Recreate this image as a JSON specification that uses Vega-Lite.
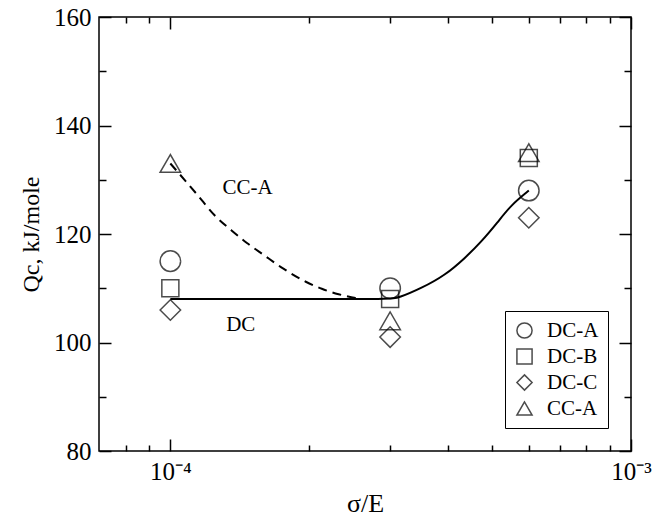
{
  "$schema": "https://vega.github.io/schema/vega-lite/v6.json",
  "width": 532,
  "height": 434,
  "autosize": "none",
  "padding": {"left": 99, "top": 17, "right": 22, "bottom": 74},
  "background": "white",
  "config": {
    "font": "Liberation Serif",
    "view": {"stroke": "black", "strokeWidth": 1.5},
    "axis": {"domain": false, "grid": false, "tickColor": "black", "tickWidth": 1.5, "labelColor": "black", "titleColor": "black", "labelFont": "Liberation Serif", "titleFont": "Liberation Serif", "titleFontWeight": "normal", "labelFontSize": 25, "titleFontSize": 24},
    "legend": {"labelFont": "Liberation Serif, serif", "labelFontSize": 21, "labelColor": "black", "labelFontWeight": "normal"}
  },
  "datasets": {
    "points": [
      {"series": "DC-A", "x": 0.0001, "y": 115},
      {"series": "DC-B", "x": 0.0001, "y": 110},
      {"series": "DC-C", "x": 0.0001, "y": 106},
      {"series": "CC-A", "x": 0.0001, "y": 133},
      {"series": "DC-A", "x": 0.0003, "y": 110},
      {"series": "DC-B", "x": 0.0003, "y": 108},
      {"series": "DC-C", "x": 0.0003, "y": 101},
      {"series": "CC-A", "x": 0.0003, "y": 104},
      {"series": "DC-A", "x": 0.0006, "y": 128},
      {"series": "DC-B", "x": 0.0006, "y": 134},
      {"series": "DC-C", "x": 0.0006, "y": 123},
      {"series": "CC-A", "x": 0.0006, "y": 135}
    ],
    "dc": [
      {"x": 0.0001, "y": 108},
      {"x": 0.0002, "y": 108},
      {"x": 0.0003, "y": 108},
      {"x": 0.0003126, "y": 108.2},
      {"x": 0.0003507, "y": 110.0},
      {"x": 0.000395, "y": 112.4},
      {"x": 0.0004365, "y": 115.6},
      {"x": 0.0004725, "y": 118.5},
      {"x": 0.000514, "y": 122.2},
      {"x": 0.0005485, "y": 125.3},
      {"x": 0.0006, "y": 128}
    ],
    "cc": [
      {"x": 0.0001, "y": 133},
      {"x": 0.0001145, "y": 127.2},
      {"x": 0.0001246, "y": 123.5},
      {"x": 0.0001356, "y": 120.7},
      {"x": 0.0001469, "y": 118.3},
      {"x": 0.0001597, "y": 116.1},
      {"x": 0.0001738, "y": 113.9},
      {"x": 0.0001968, "y": 111.2},
      {"x": 0.0002132, "y": 109.9},
      {"x": 0.0002319, "y": 108.9},
      {"x": 0.0002523, "y": 108.2},
      {"x": 0.0002627, "y": 108.0}
    ],
    "labels": [
      {"label": "CC-A", "x": 0.0001297, "y": 128.5},
      {"label": "DC", "x": 0.0001322, "y": 103.2}
    ]
  },
  "layer": [
    {
      "data": {"name": "dc"},
      "mark": {"type": "line", "color": "black", "strokeWidth": 2, "interpolate": "basis"},
      "encoding": {
        "x": {"field": "x", "type": "quantitative", "scale": {"type": "log", "domain": [0.00007, 0.001], "nice": false},
              "axis": {"orient": "bottom", "values": [0.00008, 0.00009, 0.0002, 0.0003, 0.0004, 0.0005, 0.0006, 0.0007, 0.0008, 0.0009], "tickSize": -6, "labels": false, "title": null}},
        "y": {"field": "y", "type": "quantitative", "scale": {"domain": [80, 160], "nice": false, "zero": false},
              "axis": {"orient": "left", "values": [90, 110, 130, 150], "tickSize": -7, "labels": false, "title": null}}
      }
    },
    {
      "data": {"name": "cc"},
      "mark": {"type": "line", "color": "black", "strokeWidth": 2, "strokeDash": [9, 6], "interpolate": "monotone"},
      "encoding": {
        "x": {"field": "x", "type": "quantitative", "scale": {"type": "log", "domain": [0.00007, 0.001], "nice": false},
              "axis": {"orient": "top", "values": [0.0001, 0.001], "tickSize": -12, "labels": false, "title": null}},
        "y": {"field": "y", "type": "quantitative", "scale": {"domain": [80, 160], "nice": false, "zero": false},
              "axis": {"orient": "right", "values": [80, 100, 120, 140, 160], "tickSize": -12, "labels": false, "title": null}}
      }
    },
    {
      "data": {"name": "labels"},
      "mark": {"type": "text", "font": "Liberation Serif", "fontSize": 21, "align": "left", "baseline": "middle", "color": "black"},
      "encoding": {
        "x": {"field": "x", "type": "quantitative", "scale": {"type": "log", "domain": [0.00007, 0.001], "nice": false},
              "axis": {"orient": "top", "values": [0.00008, 0.00009, 0.0002, 0.0003, 0.0004, 0.0005, 0.0006, 0.0007, 0.0008, 0.0009], "tickSize": -6, "labels": false, "title": null}},
        "y": {"field": "y", "type": "quantitative", "scale": {"domain": [80, 160], "nice": false, "zero": false},
              "axis": {"orient": "right", "values": [90, 110, 130, 150], "tickSize": -7, "labels": false, "title": null}},
        "text": {"field": "label", "type": "nominal"}
      }
    },
    {
      "data": {"name": "points"},
      "transform": [{"filter": "datum.series === 'DC-B'"}],
      "mark": {"type": "point", "filled": false, "color": "black", "strokeWidth": 1.5, "size": 290},
      "encoding": {
        "x": {"field": "x", "type": "quantitative", "scale": {"type": "log", "domain": [0.00007, 0.001], "nice": false}, "axis": null},
        "y": {"field": "y", "type": "quantitative", "scale": {"domain": [80, 160], "nice": false, "zero": false}, "axis": null},
        "shape": {"field": "series", "type": "nominal",
                  "scale": {"domain": ["DC-A", "DC-B", "DC-C", "CC-A"], "range": ["circle", "square", "diamond", "triangle-up"]},
                  "legend": {"title": null, "orient": "bottom-right", "offset": 23, "labelFont": "Liberation Serif, serif", "labelFontSize": 21, "labelColor": "black", "strokeColor": "black", "padding": 9, "rowPadding": 3, "symbolSize": 230, "symbolStrokeColor": "black", "symbolFillColor": "transparent", "symbolStrokeWidth": 1.5, "labelOffset": 12}}
      }
    },
    {
      "data": {"name": "points"},
      "transform": [{"filter": "datum.series !== 'DC-B'"}],
      "mark": {"type": "point", "filled": false, "color": "black", "strokeWidth": 1.5, "size": 420},
      "encoding": {
        "x": {"field": "x", "type": "quantitative", "scale": {"type": "log", "domain": [0.00007, 0.001], "nice": false},
              "axis": {"orient": "bottom", "values": [0.0001, 0.001], "tickSize": -12, "labelPadding": 20, "labelExpr": "datum.value < 0.0005 ? '10⁻⁴' : '10⁻³'", "labelOverlap": false, "labelFlush": false, "labelBound": false, "title": "σ/E", "titleFontSize": 26, "titlePadding": 6}},
        "y": {"field": "y", "type": "quantitative", "scale": {"domain": [80, 160], "nice": false, "zero": false},
              "axis": {"orient": "left", "values": [80, 100, 120, 140, 160], "tickSize": -12, "labelPadding": 20, "title": "Qc, kJ/mole", "titlePadding": 10}},
        "shape": {"field": "series", "type": "nominal",
                  "scale": {"domain": ["DC-A", "DC-B", "DC-C", "CC-A"], "range": ["circle", "square", "diamond", "triangle-up"]},
                  "legend": {"title": null, "orient": "bottom-right", "offset": 23, "labelFont": "Liberation Serif, serif", "labelFontSize": 21, "labelColor": "black", "strokeColor": "black", "padding": 9, "rowPadding": 3, "symbolSize": 230, "symbolStrokeColor": "black", "symbolFillColor": "transparent", "symbolStrokeWidth": 1.5, "labelOffset": 12}}
      }
    }
  ],
  "resolve": {"axis": {"x": "independent", "y": "independent"}}
}
